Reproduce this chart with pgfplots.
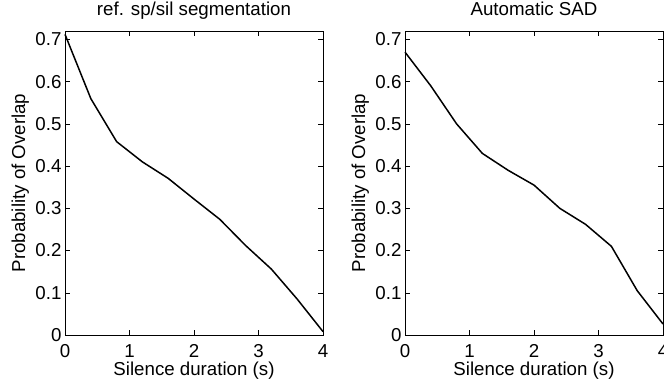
\documentclass[border=0pt]{standalone}
\usepackage{pgfplots}
\pgfplotsset{compat=1.18}
\usepackage{fontspec}
\setmainfont{Liberation Sans}
\begin{document}
\begin{tikzpicture}[x=1bp,y=1bp]
\useasboundingbox (0,0) rectangle (664,388);
\pgfplotsset{
  every axis title shift=0pt,
  myax/.style={
    anchor=south west, scale only axis, width=258bp, height=304bp,
    xmin=0, xmax=4, ymin=0, ymax=0.72,
    xtick={0,1,2,3,4}, ytick={0,0.1,0.2,0.3,0.4,0.5,0.6,0.7},
    tick align=inside, major tick length=5bp,
    every tick/.style={black, line width=0.5bp},
    axis line style={black, line width=0.6bp},
    /pgf/number format/assume math mode=true,
    tick label style={font=\fontsize{18.7bp}{21bp}\selectfont},
    label style={font=\fontsize{18.7bp}{21bp}\selectfont},
    title style={font=\fontsize{18.7bp}{21bp}\selectfont, at={(axis description cs:0.5,1.0526)}, anchor=base},
    xticklabel style={anchor=base, yshift=-22bp},
    xlabel style={at={(axis description cs:0.5,-0.134)}, anchor=base},
    ylabel style={at={(axis description cs:-0.155,0.5)}, anchor=base},
    xlabel={Silence duration (s)}, ylabel={Probability of Overlap},
    clip=false,
  }
}
\begin{axis}[myax, at={(65bp,53bp)}, title={ref. sp/sil segmentation}]
\addplot[black, line width=1.5bp] coordinates {
(0,0.712) (0.4,0.56) (0.8,0.458) (1.2,0.41) (1.6,0.371) (2.0,0.322) (2.4,0.274) (2.8,0.212) (3.2,0.156) (3.6,0.085) (4.0,0.008)
};
\end{axis}
\begin{axis}[myax, at={(405bp,53bp)}, title={Automatic SAD}]
\addplot[black, line width=1.5bp] coordinates {
(0,0.67) (0.4,0.59) (0.8,0.50) (1.2,0.43) (1.6,0.39) (2.0,0.355) (2.4,0.30) (2.8,0.262) (3.2,0.21) (3.6,0.105) (4.0,0.026)
};
\end{axis}
\end{tikzpicture}
\end{document}
